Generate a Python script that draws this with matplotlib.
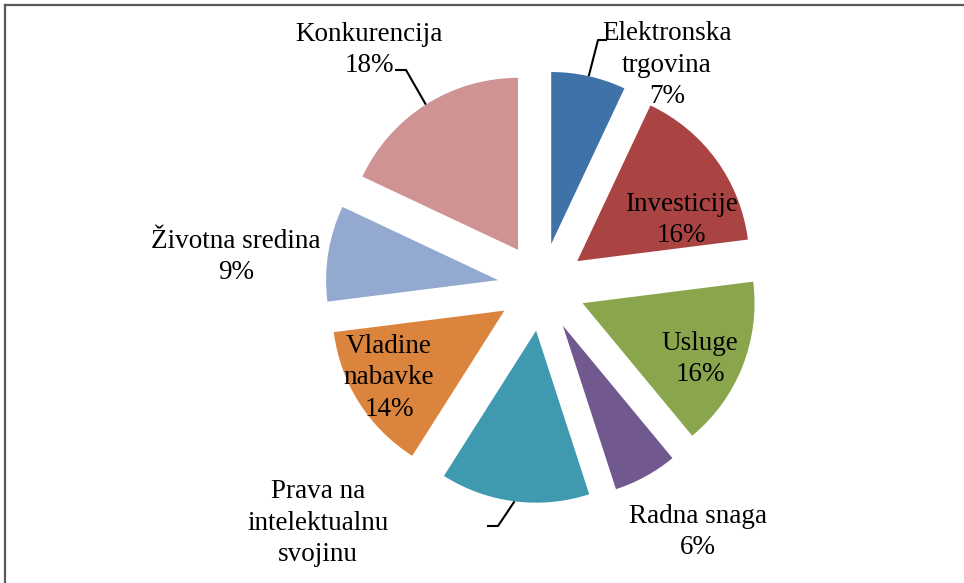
import numpy as np
import matplotlib.pyplot as plt
from matplotlib.lines import Line2D

categories = ["Elektronska\ntrgovina", "Investicije", "Usluge", "Radna snaga",
              "Prava na\nintelektualnu\nsvojinu", "Vladine\nnabavke",
              "Životna sredina", "Konkurencija"]
shares = [7, 16, 16, 6, 14, 14, 9, 18]
colors = ["#3F72A9", "#A94442", "#89A64C", "#71588F",
          "#3F9AB0", "#DB843D", "#93A9CF", "#D09393"]
# the percentage of this label falls below the chart area in the original
hide_value = [False, False, False, False, True, False, False, False]

W, H = 964, 583
cx, cy, r = 541.6, 287.0, 172.0   # pie centre and radius in image pixels
explode = 0.256

fig = plt.figure(figsize=(W / 100, H / 100), dpi=100)
ax = fig.add_axes([0, 0, 1, 1])
wedges, _ = ax.pie(shares, colors=colors, startangle=90, counterclock=False,
                   explode=[explode] * len(shares), radius=1,
                   wedgeprops=dict(linewidth=0))
ax.set_xlim(-cx / r, (W - cx) / r)
ax.set_ylim(-(H - cy) / r, cy / r)
ax.set_aspect("equal")
ax.axis("off")


def px(x, y):
    # image pixel (from top-left) -> data coords
    return (x - cx) / r, (cy - y) / r


# label placement (pixel centre of text block) and leader elbows
label_pos = [(667, 65), (681, 220), (700, 359), (698, 532),
             (318, 523), (389, 378), (236, 257), (369, 50)]
leaders = {0: [(598, 40), (607, 40)],
           7: [(406, 70), (395, 70)],
           4: [(498, 526), (487, 526)]}

font = dict(family=["Liberation Serif", "DejaVu Serif"], fontsize=19.5)

for i, (w, lab, val) in enumerate(zip(wedges, categories, shares)):
    x, y = px(*label_pos[i])
    txt = lab if hide_value[i] else f"{lab}\n{val}%"
    ax.text(x, y, txt, ha="center", va="center",
            linespacing=1.32, color="black", **font)
    if i in leaders:
        mid = np.deg2rad((w.theta1 + w.theta2) / 2)
        ox, oy = w.center
        pts = [(ox + np.cos(mid), oy + np.sin(mid))]
        pts += [px(*p) for p in leaders[i]]
        xs, ys = zip(*pts)
        ax.plot(xs, ys, color="black", lw=1.5, solid_capstyle="butt")

# chart area frame (top and left edges only visible)
fig.add_artist(Line2D([5 / W, 1], [1 - 5 / H, 1 - 5 / H], color="#595959", lw=1.6))
fig.add_artist(Line2D([5 / W, 5 / W], [0, 1 - 5 / H], color="#595959", lw=1.6))

fig.savefig("out.png", dpi=100)
